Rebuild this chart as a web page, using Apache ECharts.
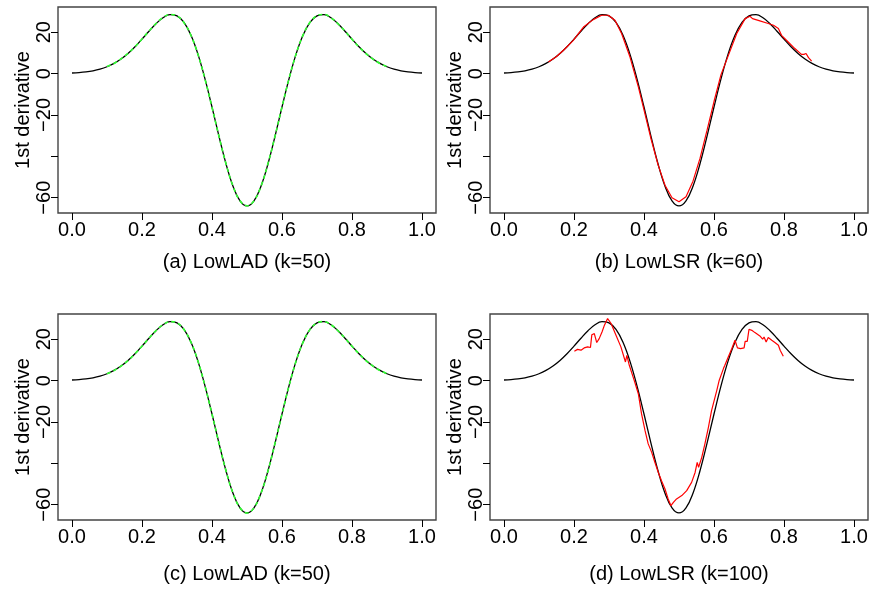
<!DOCTYPE html>
<html>
<head>
<meta charset="utf-8">
<script src="https://cdn.jsdelivr.net/npm/echarts@6/dist/echarts.min.js"></script>
<style>html,body{margin:0;padding:0;background:#fff}#c{width:871px;height:590px}</style>
</head>
<body>
<div id="c"></div>
<script>
// ---- data ----
const panelTitles = ['(a) LowLAD (k=50)', '(b) LowLSR (k=60)', '(c) LowLAD (k=50)', '(d) LowLSR (k=100)'];
const xTicks = [0, 0.2, 0.4, 0.6, 0.8, 1.0];
const yTicks = [-60, -40, -20, 0, 20];
const yLabels = [-60, -20, 0, 20];

const trueX = [0,0.02,0.04,0.06,0.08,0.10,0.12,0.14,0.16,0.18,0.20,0.22,0.24,0.26,0.28,0.30,0.32,0.34,0.36,0.38,0.40,0.42,0.44,0.46,0.48,0.50,
  0.52,0.54,0.56,0.58,0.60,0.62,0.64,0.66,0.68,0.70,0.72,0.74,0.76,0.78,0.80,0.82,0.84,0.86,0.88,0.90,0.92,0.94,0.96,0.98,1.00];
const trueY = [0.29,0.50,0.84,1.37,2.16,3.31,4.91,7.03,9.72,12.97,16.64,20.50,24.13,27.01,28.50,27.90,24.71,18.51,9.30,-2.55,-16.16,-30.34,-43.60,-54.43,-61.53,-64.00,
  -61.53,-54.43,-43.60,-30.34,-16.16,-2.55,9.30,18.51,24.71,27.90,28.50,27.01,24.13,20.50,16.64,12.97,9.72,7.03,4.91,3.31,2.16,1.37,0.84,0.50,0.29];

const ladX = [0.10,0.12,0.14,0.16,0.18,0.20,0.22,0.24,0.26,0.28,0.30,0.32,0.34,0.36,0.38,0.40,0.42,0.44,0.46,0.48,0.50,
  0.52,0.54,0.56,0.58,0.60,0.62,0.64,0.66,0.68,0.70,0.72,0.74,0.76,0.78,0.80,0.82,0.84,0.86,0.88,0.90];
const ladA = [3.4,4.9,7.1,9.8,13.0,16.7,20.6,24.2,27.1,28.6,27.9,24.6,18.4,9.2,-2.7,-16.3,-30.4,-43.6,-54.4,-61.5,-63.9,
  -61.5,-54.5,-43.5,-30.3,-16.1,-2.5,9.4,18.6,24.8,28.0,28.6,27.0,24.1,20.5,16.6,12.9,9.7,7.0,4.9,3.3];
const ladC = [3.3,4.9,7.0,9.7,13.0,16.6,20.5,24.2,27.0,28.5,27.9,24.7,18.5,9.3,-2.6,-16.2,-30.3,-43.6,-54.4,-61.5,-64.0,
  -61.5,-54.4,-43.6,-30.3,-16.2,-2.6,9.3,18.5,24.7,27.9,28.5,27.0,24.1,20.5,16.6,13.0,9.7,7.0,4.9,3.3];

const lsrB = [[0.127,5.6],[0.150,8.3],[0.170,11.3],[0.198,16.1],[0.227,22.5],[0.255,26.1],[0.279,28.2],[0.298,28.2],[0.317,25.8],
  [0.336,19.4],[0.360,8.0],[0.384,-6.5],[0.400,-17.5],[0.420,-31.5],[0.440,-44.0],[0.460,-54.0],[0.480,-60.0],[0.500,-62.0],
  [0.520,-59.5],[0.540,-52.0],[0.560,-41.0],[0.580,-27.5],[0.600,-13.5],[0.620,-0.5],[0.646,11.0],[0.665,19.4],[0.689,26.6],
  [0.703,27.7],[0.710,26.6],[0.731,25.5],[0.755,24.2],[0.770,23.4],[0.784,21.8],[0.789,21.3],[0.793,18.5],[0.812,15.3],
  [0.831,12.1],[0.850,9.3],[0.857,9.3],[0.863,9.7],[0.870,7.7],[0.879,6.0]];

const lsrD = [[0.201,14.2],[0.210,15.1],[0.220,14.7],[0.229,15.8],[0.239,16.3],[0.247,16.0],[0.251,22.2],[0.258,22.7],[0.265,18.4],
  [0.272,20.3],[0.280,23.5],[0.287,26.8],[0.291,27.6],[0.296,30.0],[0.301,30.3],[0.306,27.6],[0.320,21.9],[0.334,16.3],[0.347,9.0],
  [0.351,12.2],[0.358,7.4],[0.372,0.1],[0.384,-6.5],[0.393,-16.1],[0.403,-24.2],[0.412,-30.6],[0.422,-34.7],[0.431,-39.5],
  [0.441,-44.4],[0.450,-48.4],[0.460,-52.4],[0.469,-57.2],[0.477,-60.5],[0.484,-58.9],[0.493,-57.2],[0.508,-55.6],[0.522,-53.2],
  [0.536,-49.2],[0.546,-44.4],[0.552,-39.5],[0.556,-41.9],[0.565,-37.1],[0.574,-30.6],[0.584,-22.6],[0.593,-14.5],[0.608,-4.7],
  [0.615,0.2],[0.627,5.8],[0.631,7.4],[0.641,11.5],[0.651,15.5],[0.660,19.5],[0.663,20.3],[0.667,15.8],[0.676,15.5],[0.686,15.8],
  [0.689,19.0],[0.695,19.0],[0.700,24.8],[0.708,24.3],[0.717,23.2],[0.731,21.6],[0.739,20.0],[0.743,21.1],[0.749,18.7],[0.755,20.8],
  [0.765,19.5],[0.774,18.4],[0.784,17.1],[0.789,14.7],[0.793,13.9],[0.798,11.8]];

// ---- chart ----
const zip = (xs, ys) => xs.map((x, i) => [x, ys[i]]);
const FONT = 'Liberation Sans, Arial, Helvetica, sans-serif';
const FS = 20;
const gridPos = [[58, 7], [490, 7], [58, 314], [490, 314]];
const titleGap = [39, 39, 44, 44];

const grids = gridPos.map(p => ({left: p[0], top: p[1], width: 378, height: 206, show: true,
  borderColor: '#444', borderWidth: 1.4, backgroundColor: 'transparent', containLabel: false}));

const xAxes = gridPos.map((p, i) => ({
  type: 'value', gridIndex: i, min: -0.04, max: 1.04,
  name: panelTitles[i], nameLocation: 'middle', nameGap: titleGap[i],
  nameTextStyle: {fontFamily: FONT, fontSize: FS, color: '#000'},
  axisLine: {show: false, onZero: false},
  axisTick: {show: true, inside: false, length: 7, customValues: xTicks, lineStyle: {color: '#000', width: 1}},
  axisLabel: {show: true, margin: 7, customValues: xTicks, fontFamily: FONT, fontSize: FS, color: '#000',
    formatter: v => v.toFixed(1)},
  splitLine: {show: false}
}));

const yAxes = gridPos.map((p, i) => ({
  type: 'value', gridIndex: i, min: -67.4, max: 32.2,
  name: '1st derivative', nameLocation: 'middle', nameGap: 21, nameRotate: 90,
  nameTextStyle: {fontFamily: FONT, fontSize: FS, color: '#000'},
  axisLine: {show: false, onZero: false},
  axisTick: {show: true, inside: false, length: 7, customValues: yTicks, lineStyle: {color: '#000', width: 1}},
  axisLabel: {show: true, margin: 4, rotate: 90, customValues: yLabels, fontFamily: FONT, fontSize: FS, color: '#000',
    formatter: v => String(v).replace('-', '\u2212')},
  splitLine: {show: false}
}));

const trueData = zip(trueX, trueY);
const blackLine = i => ({type: 'line', xAxisIndex: i, yAxisIndex: i, data: trueData, smooth: 0.4, showSymbol: false,
  lineStyle: {color: '#000', width: 1.3}, z: 2});

const series = [
  blackLine(0),
  {type: 'line', xAxisIndex: 0, yAxisIndex: 0, data: zip(ladX, ladA), smooth: 0.4, showSymbol: false,
    lineStyle: {color: '#30ff30', width: 1.6, type: [4, 3]}, z: 3},
  blackLine(1),
  {type: 'line', xAxisIndex: 1, yAxisIndex: 1, data: lsrB, showSymbol: false,
    lineStyle: {color: '#ff0000', width: 1.2}, z: 3},
  blackLine(2),
  {type: 'line', xAxisIndex: 2, yAxisIndex: 2, data: zip(ladX, ladC), smooth: 0.4, showSymbol: false,
    lineStyle: {color: '#30ff30', width: 1.6, type: [4, 3]}, z: 3},
  blackLine(3),
  {type: 'line', xAxisIndex: 3, yAxisIndex: 3, data: lsrD, showSymbol: false,
    lineStyle: {color: '#ff0000', width: 1.2}, z: 3}
];

const chart = echarts.init(document.getElementById('c'), null, {renderer: 'canvas'});
chart.setOption({
  animation: false,
  backgroundColor: '#fff',
  textStyle: {fontFamily: FONT},
  grid: grids, xAxis: xAxes, yAxis: yAxes, series: series
});
</script>
</body>
</html>
